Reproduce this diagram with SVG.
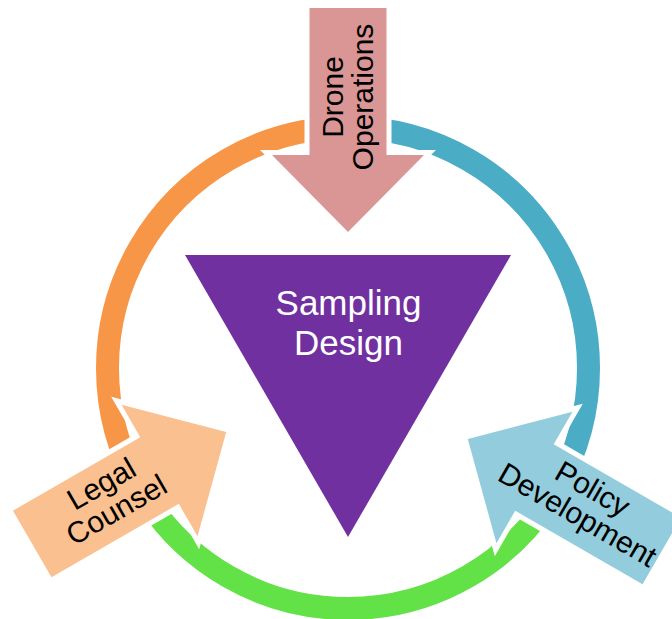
<svg xmlns="http://www.w3.org/2000/svg" width="672" height="619" viewBox="0 0 672 619">
  <defs>
    <style>
      .ring { fill: none; stroke-width: 23; }
      .arrow { stroke: #ffffff; stroke-width: 10; stroke-linejoin: miter; paint-order: stroke fill; }
      .lbl { font-family: "Liberation Sans", Arial, sans-serif; font-size: 30px; fill: #000000; text-anchor: middle; }
      .ctr { font-family: "Liberation Sans", Arial, sans-serif; font-size: 35px; fill: #ffffff; text-anchor: middle; }
    </style>
    <!-- block arrow pointing down at the hub; the other two are rotated copies -->
    <polygon id="inArrow" points="309.5,8 386.5,8 386.5,155 424,155 348,232 272,155 309.5,155"/>
  </defs>

  <rect width="672" height="619" fill="#ffffff"/>

  <!-- cycle ring, centre (348,368) -->
  <g id="connectors">
    <path class="ring" stroke="#F79646" d="M139.72 488.25A240.5 240.5 0 0 1 348 127.5"/>
    <path class="ring" stroke="#4BACC6" d="M348 127.5A240.5 240.5 0 0 1 556.28 488.25"/>
    <path class="ring" stroke="#62E247" d="M556.28 488.25A240.5 240.5 0 0 1 139.72 488.25"/>
  </g>

  <g id="sampling-design">
    <polygon points="185,255 511,255 348,537" fill="#7030A0"/>
    <text class="ctr" x="348.5" y="315">Sampling</text>
    <text class="ctr" x="348.5" y="355">Design</text>
  </g>

  <g id="drone-operations">
    <use href="#inArrow" class="arrow" fill="#D99694"/>
    <text class="lbl" transform="translate(343,97) rotate(-90)"><tspan x="0" y="0">Drone</tspan><tspan x="0" y="30">Operations</tspan></text>
  </g>

  <g id="legal-counsel">
    <use href="#inArrow" class="arrow" fill="#FAC090" transform="translate(-4,-4) rotate(-120 348 368)"/>
    <text class="lbl" transform="translate(109,497) rotate(-30)"><tspan x="0" y="-5">Legal</tspan><tspan x="0" y="25">Counsel</tspan></text>
  </g>

  <g id="policy-development">
    <use href="#inArrow" class="arrow" fill="#93CDDD" transform="translate(2,3) rotate(120 348 368)"/>
    <text class="lbl" transform="translate(585,502) rotate(30)"><tspan x="0" y="-5">Policy</tspan><tspan x="0" y="25">Development</tspan></text>
  </g>
</svg>
